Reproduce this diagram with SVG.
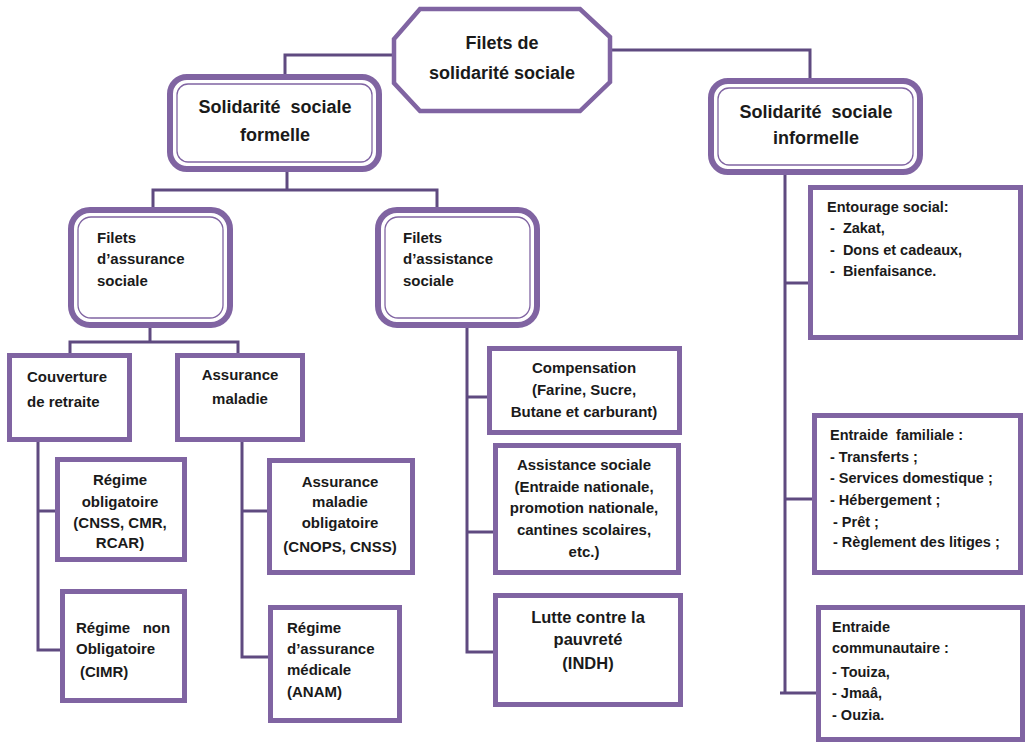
<svg xmlns="http://www.w3.org/2000/svg" width="1026" height="745" viewBox="0 0 1026 745">
<style>
.bg{fill:#ffffff}
.oct{fill:#ffffff;stroke:#8064A2;stroke-width:4.5;stroke-linejoin:miter}
.dbl{fill:#ffffff;stroke:#8064A2;stroke-width:6}
.dbli{fill:none;stroke:#8064A2;stroke-width:1.3}
.sq{fill:#ffffff;stroke:#8064A2;stroke-width:5}
.con{fill:none;stroke:#5F4A80;stroke-width:3}
text{font-family:"Liberation Sans",Arial,sans-serif;font-weight:bold;fill:#1a1a1a}
.t18{font-size:18px}
.t15{font-size:15px}
.t145{font-size:14.5px}
.t165{font-size:16.5px}
.c{text-anchor:middle}
</style>
<rect class="bg" x="0" y="0" width="1026" height="745"/>

<g id="connectors">
<polyline class="con" points="394,55 285,55 285,76"/>
<polyline class="con" points="610,50 810,50 810,80"/>
<polyline class="con" points="287,172 287,190"/>
<polyline class="con" points="153,208 153,190 437,190 437,208"/>
<polyline class="con" points="150,328 150,342"/>
<polyline class="con" points="70,354 70,342 238,342 238,354"/>
<polyline class="con" points="38,442 38,650 60,650"/>
<polyline class="con" points="38,511 55,511"/>
<polyline class="con" points="242,442 242,657 268,657"/>
<polyline class="con" points="242,511 267,511"/>
<polyline class="con" points="467,328 467,652 493,652"/>
<polyline class="con" points="467,397 489,397"/>
<polyline class="con" points="467,532 493,532"/>
<polyline class="con" points="785,175 785,693"/>
<polyline class="con" points="785,283 808,283"/>
<polyline class="con" points="785,499 812,499"/>
<polyline class="con" points="780,693 816,693"/>
</g>

<g id="root">
<polygon class="oct" points="420,9 580,9 610,37 610,82 580,111 420,111 394,83 394,39"/>
<text class="t18 c" x="502" y="49">Filets de</text>
<text class="t18 c" x="502" y="79">solidarité sociale</text>
</g>

<g id="formelle">
<rect class="dbl" x="170" y="77" width="209" height="92" rx="17"/>
<rect class="dbli" x="177" y="84" width="195" height="78" rx="11"/>
<text class="t18 c" x="275" y="113" xml:space="preserve">Solidarité  sociale</text>
<text class="t18 c" x="275" y="141">formelle</text>
</g>

<g id="informelle">
<rect class="dbl" x="711" y="81" width="209" height="91" rx="17"/>
<rect class="dbli" x="718" y="88" width="195" height="77" rx="11"/>
<text class="t18 c" x="816" y="118" xml:space="preserve">Solidarité  sociale</text>
<text class="t18 c" x="816" y="144">informelle</text>
</g>

<g id="filets-assurance">
<rect class="dbl" x="71" y="210" width="159" height="115" rx="19"/>
<rect class="dbli" x="78" y="217" width="145" height="101" rx="13"/>
<text class="t15" x="97" y="243">Filets</text>
<text class="t15" x="97" y="264">d’assurance</text>
<text class="t15" x="97" y="286">sociale</text>
</g>

<g id="filets-assistance">
<rect class="dbl" x="378" y="210" width="159" height="115" rx="19"/>
<rect class="dbli" x="385" y="217" width="145" height="101" rx="13"/>
<text class="t15" x="403" y="243">Filets</text>
<text class="t15" x="403" y="264">d’assistance</text>
<text class="t15" x="403" y="286">sociale</text>
</g>

<g id="couverture">
<rect class="sq" x="9.5" y="355.5" width="120" height="84"/>
<text class="t15" x="27" y="382">Couverture</text>
<text class="t15" x="27" y="407">de retraite</text>
</g>

<g id="assurance-maladie">
<rect class="sq" x="177.5" y="355.5" width="125" height="84"/>
<text class="t15 c" x="240" y="380">Assurance</text>
<text class="t15 c" x="240" y="404">maladie</text>
</g>

<g id="regime-obligatoire">
<rect class="sq" x="57.5" y="459.5" width="127" height="100"/>
<text class="t15 c" x="120" y="485">Régime</text>
<text class="t15 c" x="120" y="507">obligatoire</text>
<text class="t15 c" x="120" y="528">(CNSS, CMR,</text>
<text class="t15 c" x="120" y="548">RCAR)</text>
</g>

<g id="regime-non-obligatoire">
<rect class="sq" x="62.5" y="591.5" width="122" height="109"/>
<text class="t15" x="76" y="633" xml:space="preserve">Régime   non</text>
<text class="t15" x="76" y="654">Obligatoire</text>
<text class="t15" x="80" y="677">(CIMR)</text>
</g>

<g id="amo">
<rect class="sq" x="269.5" y="460.5" width="143" height="112"/>
<text class="t15 c" x="340" y="487">Assurance</text>
<text class="t15 c" x="340" y="507">maladie</text>
<text class="t15 c" x="340" y="528">obligatoire</text>
<text class="t15 c" x="340" y="552">(CNOPS, CNSS)</text>
</g>

<g id="ramed">
<rect class="sq" x="270.5" y="607.5" width="129" height="113"/>
<text class="t15" x="287" y="633">Régime</text>
<text class="t15" x="287" y="654">d’assurance</text>
<text class="t15" x="287" y="675">médicale</text>
<text class="t15" x="287" y="697">(ANAM)</text>
</g>

<g id="compensation">
<rect class="sq" x="489.5" y="348.5" width="190" height="84"/>
<text class="t15 c" x="584" y="373">Compensation</text>
<text class="t15 c" x="584" y="395">(Farine, Sucre,</text>
<text class="t15 c" x="584" y="417">Butane et carburant)</text>
</g>

<g id="assistance-sociale">
<rect class="sq" x="495.5" y="445.5" width="183" height="127"/>
<text class="t15 c" x="584" y="470">Assistance sociale</text>
<text class="t15 c" x="584" y="492">(Entraide nationale,</text>
<text class="t15 c" x="584" y="513">promotion nationale,</text>
<text class="t15 c" x="584" y="535">cantines scolaires,</text>
<text class="t15 c" x="584" y="557">etc.)</text>
</g>

<g id="lutte">
<rect class="sq" x="495.5" y="595.5" width="185" height="109"/>
<text class="t165 c" x="588" y="623">Lutte contre la</text>
<text class="t165 c" x="588" y="645">pauvreté</text>
<text class="t165 c" x="588" y="669">(INDH)</text>
</g>

<g id="entourage">
<rect class="sq" x="810.5" y="187.5" width="210" height="150"/>
<text class="t145" x="827" y="212">Entourage social:</text>
<text class="t145" x="830" y="233" xml:space="preserve">-  Zakat,</text>
<text class="t145" x="830" y="255" xml:space="preserve">-  Dons et cadeaux,</text>
<text class="t145" x="830" y="276" xml:space="preserve">-  Bienfaisance.</text>
</g>

<g id="entraide-familiale">
<rect class="sq" x="814.5" y="415.5" width="206" height="157"/>
<text class="t145" x="830" y="440" xml:space="preserve">Entraide  familiale :</text>
<text class="t145" x="830" y="462">- Transferts ;</text>
<text class="t145" x="830" y="483">- Services domestique ;</text>
<text class="t145" x="830" y="505">- Hébergement ;</text>
<text class="t145" x="833" y="527">- Prêt ;</text>
<text class="t145" x="833" y="547">- Règlement des litiges ;</text>
</g>

<g id="entraide-communautaire">
<rect class="sq" x="818.5" y="607.5" width="204" height="132"/>
<text class="t145" x="832" y="632">Entraide</text>
<text class="t145" x="832" y="653">communautaire :</text>
<text class="t145" x="832" y="677">- Touiza,</text>
<text class="t145" x="832" y="698">- Jmaâ,</text>
<text class="t145" x="832" y="720">- Ouzia.</text>
</g>
</svg>
